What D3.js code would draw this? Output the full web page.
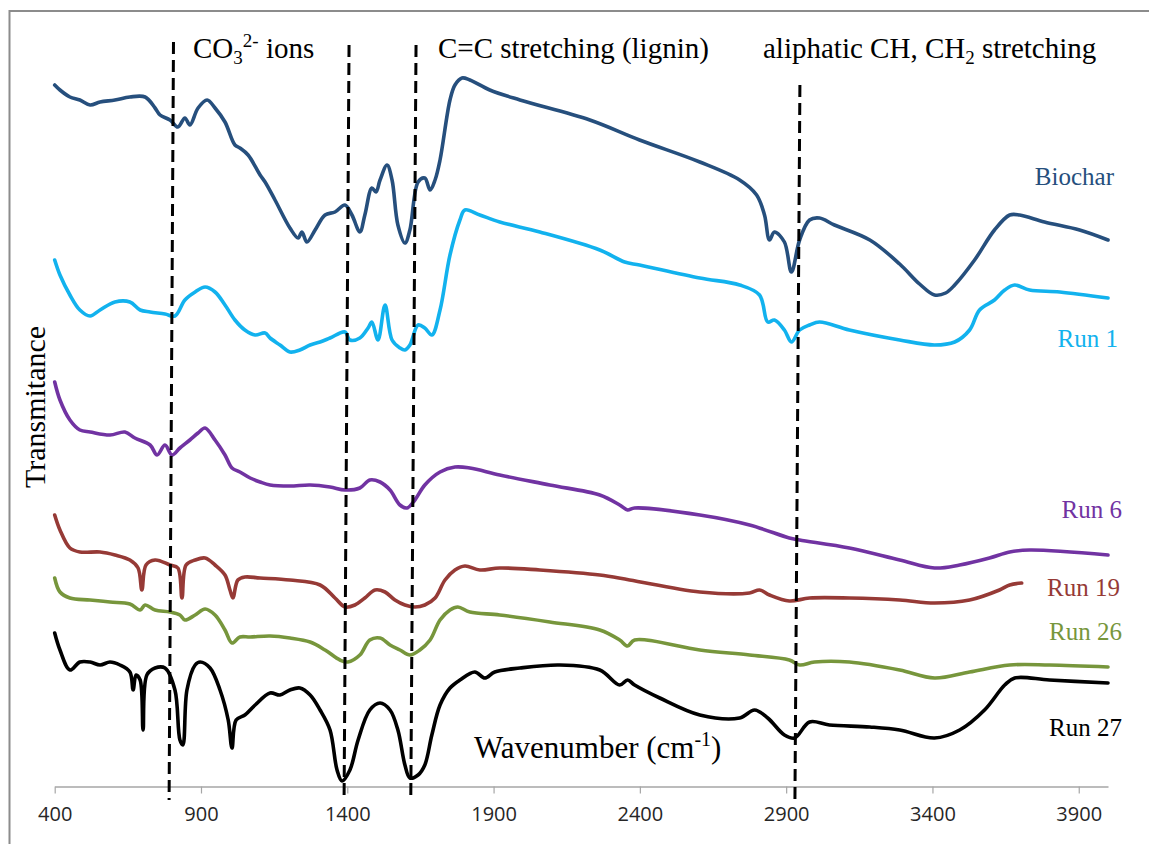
<!DOCTYPE html>
<html><head><meta charset="utf-8">
<script src="https://cdn.jsdelivr.net/npm/d3@7"></script>
<style>body{margin:0;background:#fff;} svg{display:block;}</style>
</head><body>
<script>
// ---- data (wavenumber cm^-1, transmittance a.u.) ----
const xTicks = [400, 900, 1400, 1900, 2400, 2900, 3400, 3900];
const seriesNames = ["Biochar", "Run 1", "Run 6", "Run 19", "Run 26", "Run 27"];
const seriesColors = ["#264f7d", "#12b2ee", "#7133a2", "#963a36", "#77963c", "#000000"];

const biochar = [[400,70.1],[418,69.6],[452,68.9],[486,68.6],[521,68.1],[555,68.4],[606,68.6],[657,68.9],[709,68.9],[743,67.8],[760,67.1],[794,66.6],[821,65.9],[845,66.8],[862,66.1],[890,67.8],[921,68.6],[948,67.8],[982,66.4],[1016,64.1],[1033,63.8],[1061,63.1],[1102,61.1],[1119,60.4],[1153,58.6],[1204,55.8],[1232,54.8],[1245,55.4],[1262,54.4],[1290,55.6],[1324,57.1],[1358,57.4],[1392,58.1],[1416,57.1],[1443,55.4],[1460,57.1],[1484,59.8],[1498,59.4],[1512,60.6],[1536,62.1],[1553,60.6],[1573,56.1],[1597,54.3],[1614,55.6],[1642,60.4],[1665,60.8],[1683,59.6],[1700,60.6],[1717,62.6],[1751,68.6],[1768,70.1],[1792,70.8],[1819,70.6],[1887,69.6],[1990,68.6],[2229,66.6],[2399,64.6],[2605,62.4],[2741,60.6],[2799,59.1],[2826,57.1],[2843,54.6],[2860,55.4],[2894,54.4],[2918,51.4],[2946,54.6],[2980,56.6],[3014,56.8],[3065,56.1],[3186,54.6],[3288,52.2],[3356,50.2],[3407,49.1],[3445,49.3],[3476,50.1],[3544,52.6],[3612,55.6],[3664,57.1],[3698,57.1],[3783,56.4],[3903,55.6],[4000,54.6]];

const run1 = [[400,52.6],[418,51.1],[452,49.1],[486,47.6],[521,47.0],[555,47.6],[606,48.4],[657,48.4],[692,47.6],[726,47.4],[777,47.2],[811,47.0],[845,48.6],[880,49.4],[914,49.9],[948,49.4],[982,48.1],[1016,46.6],[1050,45.6],[1085,45.1],[1119,45.3],[1136,44.8],[1170,44.1],[1204,43.4],[1238,43.6],[1273,44.1],[1307,44.4],[1341,44.8],[1392,45.4],[1409,44.6],[1443,44.8],[1471,45.8],[1484,46.4],[1505,44.6],[1529,48.1],[1553,44.6],[1580,43.8],[1597,43.6],[1614,44.1],[1642,46.1],[1665,45.8],[1689,45.1],[1717,47.6],[1751,53.1],[1785,56.6],[1802,57.6],[1853,57.1],[1921,56.4],[2058,55.4],[2263,53.6],[2348,52.4],[2399,52.1],[2605,50.8],[2741,50.1],[2809,49.1],[2837,46.4],[2860,46.6],[2894,45.6],[2918,44.4],[2946,45.6],[2980,46.1],[3014,46.4],[3116,45.6],[3288,44.6],[3407,44.1],[3476,44.4],[3527,45.6],[3561,47.6],[3612,48.6],[3647,49.6],[3681,50.1],[3732,49.6],[3835,49.4],[4000,48.8]];

const run6 = [[400,40.4],[418,38.6],[452,36.6],[486,35.6],[521,35.4],[589,35.1],[640,35.4],[674,34.8],[726,34.1],[750,33.1],[777,34.1],[801,33.1],[828,33.8],[862,34.6],[890,35.3],[914,35.8],[948,34.6],[982,33.1],[1006,31.8],[1033,31.4],[1068,30.8],[1102,30.4],[1136,30.1],[1204,30.0],[1273,30.1],[1341,29.9],[1392,29.6],[1443,29.8],[1477,30.6],[1512,30.4],[1546,29.6],[1580,28.1],[1604,27.8],[1631,28.6],[1665,30.1],[1717,31.4],[1768,31.9],[1819,31.8],[1921,31.1],[2092,30.1],[2263,29.1],[2331,28.1],[2358,27.6],[2382,27.8],[2605,27.1],[2775,26.1],[2911,24.8],[2946,24.6],[3116,23.8],[3288,22.6],[3407,21.8],[3493,22.1],[3595,22.8],[3664,23.4],[3732,23.6],[4000,23.1]];

const run19 = [[400,27.1],[418,25.6],[452,23.8],[486,23.4],[555,23.4],[606,23.1],[657,22.6],[685,21.8],[698,19.6],[712,22.1],[743,22.6],[794,22.1],[821,21.8],[835,18.8],[849,22.1],[880,22.6],[914,22.8],[948,22.1],[982,21.1],[999,19.6],[1009,18.8],[1026,20.6],[1050,20.9],[1102,20.8],[1204,20.6],[1307,20.1],[1358,18.8],[1392,17.9],[1426,18.1],[1460,18.8],[1495,19.6],[1529,19.4],[1563,18.6],[1597,18.1],[1631,17.9],[1665,18.1],[1700,18.8],[1734,20.6],[1768,21.6],[1802,22.0],[1853,21.6],[1921,21.8],[2058,21.6],[2263,21.1],[2365,20.6],[2605,19.4],[2775,19.3],[2809,19.6],[2843,19.1],[2911,18.5],[2980,18.8],[3116,18.8],[3288,18.6],[3407,18.3],[3527,18.6],[3629,19.6],[3664,20.1],[3705,20.3]];

const run26 = [[400,20.8],[418,19.4],[452,18.8],[521,18.6],[589,18.4],[657,18.2],[692,17.6],[709,18.1],[743,17.6],[794,17.4],[828,17.1],[845,16.6],[880,17.1],[914,17.7],[948,17.1],[982,15.6],[1006,14.3],[1033,14.9],[1068,14.9],[1136,15.0],[1204,14.8],[1273,14.4],[1324,13.6],[1375,12.6],[1402,12.4],[1443,13.1],[1477,14.6],[1512,14.8],[1546,14.1],[1580,13.6],[1614,13.1],[1648,13.6],[1683,14.6],[1717,16.6],[1751,17.6],[1778,17.9],[1819,17.4],[1921,17.1],[2092,16.4],[2263,15.6],[2331,14.6],[2358,14.0],[2382,14.6],[2605,13.6],[2775,13.1],[2911,12.6],[2946,12.1],[2997,12.4],[3116,12.4],[3288,11.6],[3407,10.8],[3527,11.4],[3664,12.1],[3800,12.1],[4000,11.9]];

const run27 = [[400,15.3],[418,13.6],[452,11.6],[486,12.4],[521,12.4],[555,12.1],[589,12.4],[623,12.1],[657,11.4],[668,9.6],[678,11.1],[692,10.6],[702,5.6],[715,11.1],[743,11.8],[777,11.8],[811,9.6],[828,4.6],[838,4.1],[852,9.6],[880,12.1],[897,12.4],[931,11.8],[965,9.6],[993,6.6],[1006,3.8],[1020,6.6],[1050,7.1],[1085,8.1],[1136,9.3],[1170,9.1],[1204,9.6],[1238,9.8],[1273,9.1],[1307,7.6],[1341,5.6],[1365,1.6],[1382,0.5],[1409,1.6],[1437,4.6],[1477,7.6],[1512,8.3],[1546,7.6],[1573,5.6],[1597,2.1],[1614,0.8],[1642,1.1],[1665,2.1],[1689,5.1],[1717,8.1],[1751,9.8],[1785,10.6],[1836,11.4],[1870,10.8],[1904,11.4],[1990,11.8],[2126,12.1],[2263,11.6],[2331,10.1],[2358,10.6],[2382,10.1],[2468,8.8],[2605,7.1],[2741,6.8],[2792,7.6],[2837,6.8],[2894,5.1],[2929,4.8],[2980,6.4],[3048,6.1],[3186,5.9],[3288,5.6],[3407,4.8],[3493,5.6],[3578,7.6],[3647,10.1],[3681,10.8],[3800,10.6],[4000,10.3]];

const seriesData = [biochar, run1, run6, run19, run26, run27];

// dashed marker lines: wavenumber at top / bottom, transmittance at top / bottom
const markerTopWn = [806, 1406, 1635, 2947];
const markerBottomWn = [791, 1389, 1617, 2930];
const markerTopT = [74.4, 74.1, 74.1, 70.1];
const markerBottomT = -1.4;

// ---- layout ----
const W = 1149, H = 844;
const svg = d3.select("body").append("svg").attr("width", W).attr("height", H);
const x = d3.scaleLinear().domain([400, 4000]).range([54.7, 1108]);
const y = d3.scaleLinear().domain([0, 75]).range([786, 36]);

// frame
svg.append("rect").attr("x", 9.5).attr("y", 11).attr("width", 1200).attr("height", 900)
  .attr("fill", "none").attr("stroke", "#8c8c8c").attr("stroke-width", 2);

// x axis
const xAxis = d3.axisBottom(x).tickValues(xTicks).tickSize(7).tickSizeOuter(0).tickFormat(d3.format("d"));
const gx = svg.append("g").attr("transform", `translate(0,${y(0) + 0.5})`).call(xAxis);
gx.select(".domain").attr("stroke", "#a6a6a6").attr("stroke-width", 1.5);
gx.selectAll(".tick line").attr("stroke", "#a6a6a6").attr("stroke-width", 1.2);
gx.selectAll(".tick text").attr("font-family", "'Open Sans', sans-serif").attr("font-size", 20)
  .attr("fill", "#262626").attr("dy", "1.2em");

// spectra
const line = d3.line().x(d => x(d[0])).y(d => y(d[1])).curve(d3.curveCatmullRom.alpha(0.5));
seriesData.forEach((s, i) => {
  svg.append("path").datum(s).attr("d", line).attr("fill", "none")
    .attr("stroke", seriesColors[i]).attr("stroke-width", 3.6)
    .attr("stroke-linejoin", "round").attr("stroke-linecap", "round");
});

// dashed markers
markerTopWn.forEach((w, i) => {
  svg.append("line")
    .attr("x1", x(w)).attr("y1", y(markerTopT[i]))
    .attr("x2", x(markerBottomWn[i])).attr("y2", y(markerBottomT))
    .attr("stroke", "#000").attr("stroke-width", 3).attr("stroke-dasharray", "12,6");
});

const serif = "'Liberation Serif', 'Times New Roman', serif";

// annotations
function annot(xp, yp, fs) {
  return svg.append("text").attr("x", xp).attr("y", yp).attr("font-family", serif)
    .attr("font-size", fs || 29).attr("fill", "#000");
}
let t = annot(193, 58);
t.append("tspan").text("CO");
t.append("tspan").attr("font-size", 19).attr("dy", 6).text("3");
t.append("tspan").attr("font-size", 19).attr("dy", -17).text("2-");
t.append("tspan").attr("dy", 11).text(" ions");

annot(438, 58).text("C=C stretching (lignin)");

t = annot(763, 58);
t.append("tspan").text("aliphatic CH, CH");
t.append("tspan").attr("font-size", 19).attr("dy", 6).text("2");
t.append("tspan").attr("dy", -6).text(" stretching");

t = annot(474, 758, 31);
t.append("tspan").text("Wavenumber (cm");
t.append("tspan").attr("font-size", 20).attr("dy", -12).text("-1");
t.append("tspan").attr("dy", 12).text(")");

// y title
svg.append("text").attr("transform", "translate(45,407) rotate(-90)")
  .attr("text-anchor", "middle").attr("font-family", serif).attr("font-size", 30)
  .attr("fill", "#000").text("Transmitance");

// series labels
const labelY = [185, 347, 518, 596, 640, 736];
const labelRight = [1114, 1118, 1122, 1120, 1122, 1122];
seriesNames.forEach((n, i) => {
  svg.append("text").attr("x", labelRight[i]).attr("y", labelY[i]).attr("text-anchor", "end")
    .attr("font-family", serif).attr("font-size", 25).attr("fill", seriesColors[i]).text(n);
});
</script>
</body></html>
